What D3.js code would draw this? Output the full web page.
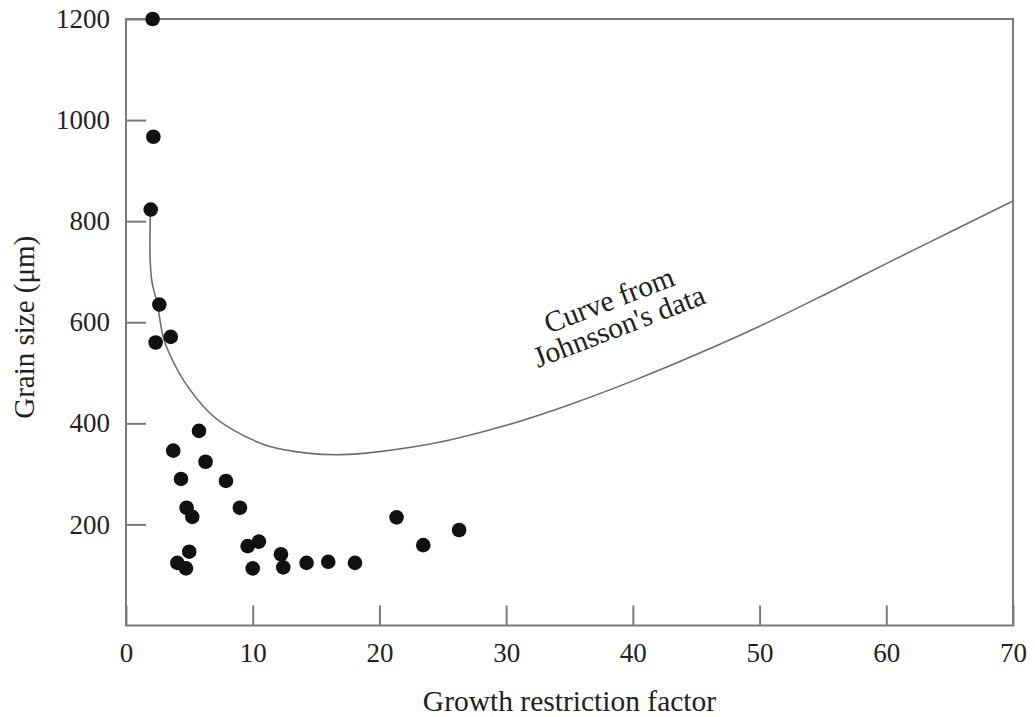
<!DOCTYPE html>
<html>
<head>
<meta charset="utf-8">
<script src="https://cdn.jsdelivr.net/npm/d3@7"></script>
<style>
  html, body { margin: 0; padding: 0; background: #fff; }
  svg { display: block; }
  text { font-family: "Liberation Serif", "Times New Roman", serif; fill: #222; }
</style>
</head>
<body>
<svg id="chart" width="1035" height="717"></svg>
<script>
// ---- data ----
const pointsX = [2.1, 2.16, 1.95, 2.63, 3.53, 2.34, 5.76, 3.73, 6.28, 4.34, 7.89, 4.78, 5.23, 8.99,
                 9.6, 10.49, 4.99, 4.05, 4.73, 10.0, 12.23, 12.41, 14.25, 15.96, 18.07, 21.35, 23.46, 26.29];
const pointsY = [1200, 967, 823, 635, 571, 560, 385, 346, 324, 290, 286, 233, 215, 233,
                 157, 166, 146, 124, 113, 113, 141, 115, 124, 126, 124, 214, 159, 189];

const curveX = [1.93, 1.89, 1.92, 2.05, 2.46, 2.94, 3.3, 4.52, 6.63, 8.45, 11.36, 14.3, 17, 20, 25, 30, 35, 40, 45, 50, 55, 60, 65, 70];
const curveY = [818, 760, 715, 680, 637, 570, 545, 486, 420, 387, 354, 341, 338, 344, 364, 396, 437, 484, 536, 592, 653, 716, 778, 840];

const xTicks = [0, 10, 20, 30, 40, 50, 60, 70];
const yTicks = [200, 400, 600, 800, 1000, 1200];

const xLabel = "Growth restriction factor";
const yLabel = "Grain size (μm)";
const curveLabel = ["Curve from", "Johnsson's data"];

// ---- layout ----
const svg = d3.select("#chart");
const mLeft = 126, mRight = 1013, mTop = 19, mBottom = 625.5;

const x = d3.scaleLinear().domain([0, 70]).range([mLeft, mRight]);
const y = d3.scaleLinear().domain([0, 1200]).range([mBottom, mTop]);

svg.append("rect").attr("width", 1035).attr("height", 717).attr("fill", "#fff");

const axisColor = "#7a7a7a";

// x axis
const gx = svg.append("g").attr("transform", `translate(0,${mBottom})`)
  .call(d3.axisBottom(x).tickValues(xTicks).tickSize(-20).tickSizeOuter(0).tickPadding(17).tickFormat(d3.format("d")));
gx.select(".domain").remove();
gx.selectAll(".tick line").attr("stroke", axisColor).attr("stroke-width", 2);
gx.selectAll(".tick text").style("font-size", "27px").attr("fill", "#222");

// y axis
const gy = svg.append("g").attr("transform", `translate(${mLeft},0)`)
  .call(d3.axisLeft(y).tickValues(yTicks).tickSize(-20).tickSizeOuter(0).tickPadding(16).tickFormat(d3.format("d")));
gy.select(".domain").remove();
gy.selectAll(".tick line").attr("stroke", axisColor).attr("stroke-width", 2);
gy.selectAll(".tick text").style("font-size", "27px").attr("fill", "#222");

// frame
svg.append("rect")
  .attr("x", mLeft).attr("y", mTop)
  .attr("width", mRight - mLeft).attr("height", mBottom - mTop)
  .attr("fill", "none").attr("stroke", axisColor).attr("stroke-width", 2);

// curve
const curveData = curveX.map((d, i) => [d, curveY[i]]);
svg.append("path")
  .datum(curveData)
  .attr("fill", "none")
  .attr("stroke", "#6e6e6e")
  .attr("stroke-width", 1.6)
  .attr("d", d3.line().x(d => x(d[0])).y(d => y(d[1])).curve(d3.curveCatmullRom.alpha(0.5)));

// points
svg.append("g").selectAll("circle")
  .data(pointsX.map((d, i) => [d, pointsY[i]]))
  .join("circle")
  .attr("cx", d => x(d[0]))
  .attr("cy", d => y(d[1]))
  .attr("r", 7.3)
  .attr("fill", "#111");

// curve label
const lab = svg.append("g").attr("transform", `translate(614,313) rotate(-21)`);
lab.selectAll("text").data(curveLabel).join("text")
  .attr("x", 0).attr("y", (d, i) => -4 + i * 28)
  .attr("text-anchor", "middle")
  .style("font-size", "29.5px")
  .text(d => d);

// axis labels
svg.append("text")
  .attr("x", (mLeft + mRight) / 2).attr("y", 711)
  .attr("text-anchor", "middle")
  .style("font-size", "29.5px")
  .text(xLabel);

svg.append("text")
  .attr("transform", `translate(34,${(mTop + mBottom) / 2 + 5}) rotate(-90)`)
  .attr("text-anchor", "middle")
  .style("font-size", "29px")
  .text(yLabel);
</script>
</body>
</html>
